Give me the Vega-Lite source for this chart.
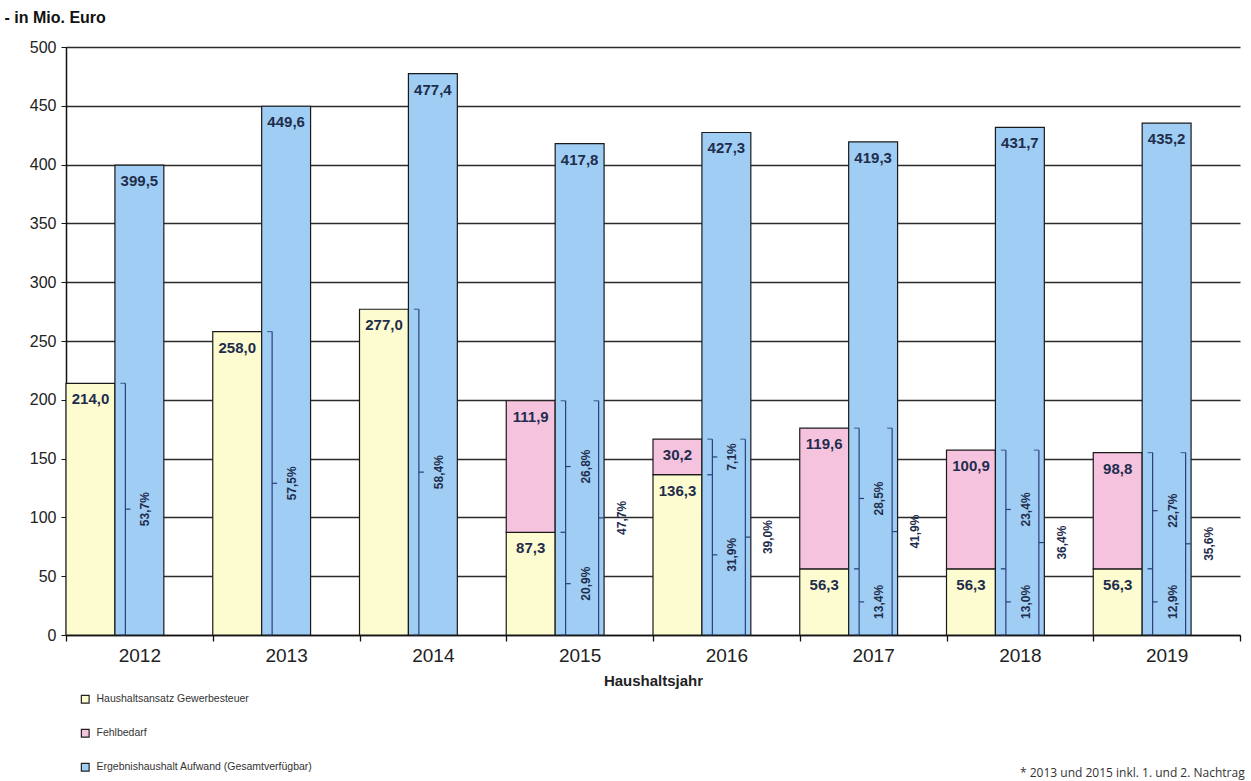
{
  "$schema": "https://vega.github.io/schema/vega-lite/v6.json",
  "width": 1174,
  "height": 588,
  "autosize": "none",
  "padding": {"left": 66, "top": 47, "right": 11, "bottom": 146},
  "config": {
    "locale": {"number": {"decimal": ",", "thousands": ".", "grouping": [3], "currency": ["", " €"]}},
    "font": "Liberation Sans",
    "view": {"stroke": null}
  },
  "title": {"text": "* 2013 und 2015 inkl. 1. und 2. Nachtrag", "orient": "bottom", "anchor": "end", "fontSize": 12, "fontWeight": "normal", "font": "Open Sans", "color": "#333", "offset": -6, "dx": 4},
  "datasets": {
    "werte": [
      {"jahr": "2012", "balken": "Bedarf", "serie": "Haushaltsansatz Gewerbesteuer", "wert": 214.0},
      {"jahr": "2012", "balken": "Aufwand", "serie": "Ergebnishaushalt Aufwand (Gesamtverfügbar)", "wert": 399.5},
      {"jahr": "2013", "balken": "Bedarf", "serie": "Haushaltsansatz Gewerbesteuer", "wert": 258.0},
      {"jahr": "2013", "balken": "Aufwand", "serie": "Ergebnishaushalt Aufwand (Gesamtverfügbar)", "wert": 449.6},
      {"jahr": "2014", "balken": "Bedarf", "serie": "Haushaltsansatz Gewerbesteuer", "wert": 277.0},
      {"jahr": "2014", "balken": "Aufwand", "serie": "Ergebnishaushalt Aufwand (Gesamtverfügbar)", "wert": 477.4},
      {"jahr": "2015", "balken": "Bedarf", "serie": "Haushaltsansatz Gewerbesteuer", "wert": 87.3},
      {"jahr": "2015", "balken": "Bedarf", "serie": "Fehlbedarf", "wert": 111.9},
      {"jahr": "2015", "balken": "Aufwand", "serie": "Ergebnishaushalt Aufwand (Gesamtverfügbar)", "wert": 417.8},
      {"jahr": "2016", "balken": "Bedarf", "serie": "Haushaltsansatz Gewerbesteuer", "wert": 136.3},
      {"jahr": "2016", "balken": "Bedarf", "serie": "Fehlbedarf", "wert": 30.2},
      {"jahr": "2016", "balken": "Aufwand", "serie": "Ergebnishaushalt Aufwand (Gesamtverfügbar)", "wert": 427.3},
      {"jahr": "2017", "balken": "Bedarf", "serie": "Haushaltsansatz Gewerbesteuer", "wert": 56.3},
      {"jahr": "2017", "balken": "Bedarf", "serie": "Fehlbedarf", "wert": 119.6},
      {"jahr": "2017", "balken": "Aufwand", "serie": "Ergebnishaushalt Aufwand (Gesamtverfügbar)", "wert": 419.3},
      {"jahr": "2018", "balken": "Bedarf", "serie": "Haushaltsansatz Gewerbesteuer", "wert": 56.3},
      {"jahr": "2018", "balken": "Bedarf", "serie": "Fehlbedarf", "wert": 100.9},
      {"jahr": "2018", "balken": "Aufwand", "serie": "Ergebnishaushalt Aufwand (Gesamtverfügbar)", "wert": 431.7},
      {"jahr": "2019", "balken": "Bedarf", "serie": "Haushaltsansatz Gewerbesteuer", "wert": 56.3},
      {"jahr": "2019", "balken": "Bedarf", "serie": "Fehlbedarf", "wert": 98.8},
      {"jahr": "2019", "balken": "Aufwand", "serie": "Ergebnishaushalt Aufwand (Gesamtverfügbar)", "wert": 435.2}
    ],
    "anteile": [
      {"jahr": "2012", "lage": "innen", "von": 0, "bis": 214.0, "anteil": 0.537},
      {"jahr": "2013", "lage": "innen", "von": 0, "bis": 258.0, "anteil": 0.575},
      {"jahr": "2014", "lage": "innen", "von": 0, "bis": 277.0, "anteil": 0.584},
      {"jahr": "2015", "lage": "innen", "von": 0, "bis": 87.3, "anteil": 0.209},
      {"jahr": "2015", "lage": "innen", "von": 87.3, "bis": 199.2, "anteil": 0.268},
      {"jahr": "2015", "lage": "aussen", "von": 0, "bis": 199.2, "anteil": 0.477},
      {"jahr": "2016", "lage": "innen", "von": 0, "bis": 136.3, "anteil": 0.319},
      {"jahr": "2016", "lage": "innen", "von": 136.3, "bis": 166.5, "anteil": 0.071},
      {"jahr": "2016", "lage": "aussen", "von": 0, "bis": 166.5, "anteil": 0.390},
      {"jahr": "2017", "lage": "innen", "von": 0, "bis": 56.3, "anteil": 0.134},
      {"jahr": "2017", "lage": "innen", "von": 56.3, "bis": 175.9, "anteil": 0.285},
      {"jahr": "2017", "lage": "aussen", "von": 0, "bis": 175.9, "anteil": 0.419},
      {"jahr": "2018", "lage": "innen", "von": 0, "bis": 56.3, "anteil": 0.130},
      {"jahr": "2018", "lage": "innen", "von": 56.3, "bis": 157.2, "anteil": 0.234},
      {"jahr": "2018", "lage": "aussen", "von": 0, "bis": 157.2, "anteil": 0.364},
      {"jahr": "2019", "lage": "innen", "von": 0, "bis": 56.3, "anteil": 0.129},
      {"jahr": "2019", "lage": "innen", "von": 56.3, "bis": 155.1, "anteil": 0.227},
      {"jahr": "2019", "lage": "aussen", "von": 0, "bis": 155.1, "anteil": 0.356}
    ]
  },
  "layer": [
    {
      "data": {"name": "werte"},
      "transform": [
        {"stack": "wert", "groupby": ["jahr", "balken"], "sort": [{"field": "serie", "order": "descending"}], "as": ["v0", "v1"]}
      ],
      "layer": [
        {
          "mark": {"type": "bar", "stroke": "#1a1a1a", "strokeWidth": 1.2},
          "encoding": {
            "x": {
              "field": "jahr", "type": "nominal",
              "scale": {"paddingInner": 0, "paddingOuter": 0},
              "axis": {
                "title": "Haushaltsjahr", "labelAngle": 0, "labelFontSize": 19, "labelColor": "#222",
                "labelPadding": 5, "tickBand": "extent", "tickSize": 6, "tickColor": "#111", "tickWidth": 1.3,
                "domainColor": "#111", "domainWidth": 1.5,
                "titleFontSize": 15, "titleFontWeight": "bold", "titlePadding": 8, "titleColor": "#222"
              }
            },
            "xOffset": {
              "field": "balken", "type": "nominal",
              "scale": {"domain": ["Bedarf", "Aufwand", "Lücke"], "paddingInner": 0, "paddingOuter": 0}
            },
            "y": {
              "field": "v0", "type": "quantitative",
              "scale": {"domain": [0, 500], "nice": false},
              "axis": {
                "values": [0, 50, 100, 150, 200, 250, 300, 350, 400, 450, 500],
                "grid": true, "gridColor": "#2b2b2b", "gridWidth": 1.3,
                "domainColor": "#111", "domainWidth": 1.5, "tickColor": "#111", "tickSize": 5,
                "labelFontSize": 16, "labelColor": "#222", "labelPadding": 5,
                "title": "- in Mio. Euro", "titleAngle": 0, "titleAlign": "left", "titleBaseline": "middle",
                "titleX": -62, "titleY": -30, "titleFontSize": 16, "titleFontWeight": "bold", "titleColor": "#111"
              }
            },
            "y2": {"field": "v1"},
            "color": {
              "field": "serie", "type": "nominal",
              "scale": {
                "domain": ["Haushaltsansatz Gewerbesteuer", "Fehlbedarf", "Ergebnishaushalt Aufwand (Gesamtverfügbar)"],
                "range": ["#FDFBD0", "#F6C3DF", "#9FCDF3"]
              },
              "legend": {
                "title": null, "orient": "none", "legendX": 14, "legendY": 647, "direction": "vertical",
                "symbolType": "square", "symbolSize": 60, "symbolStrokeColor": "#222", "symbolStrokeWidth": 1.2,
                "labelFontSize": 10.5, "labelColor": "#333", "rowPadding": 20, "labelOffset": 6, "labelLimit": 0
              }
            }
          }
        },
        {
          "mark": {"type": "text", "baseline": "top", "dy": 9, "fontSize": 15, "fontWeight": "bold", "color": "#1f2d4d"},
          "encoding": {
            "x": {"field": "jahr", "type": "nominal"},
            "xOffset": {"field": "balken", "type": "nominal"},
            "y": {"field": "v1", "type": "quantitative"},
            "text": {"field": "wert", "type": "quantitative", "format": ".1f"}
          }
        }
      ]
    },
    {
      "data": {"name": "anteile"},
      "transform": [{"filter": {"field": "lage", "equal": "innen"}}],
      "mark": {"type": "rule", "xOffset": -14, "color": "#2a3f7a", "strokeWidth": 1.2},
      "encoding": {
        "x": {"field": "jahr", "type": "nominal"},
        "y": {"field": "von", "type": "quantitative"},
        "y2": {"field": "bis"}
      }
    },
    {
      "data": {"name": "anteile"},
      "transform": [{"filter": {"field": "lage", "equal": "aussen"}}],
      "mark": {"type": "rule", "xOffset": 19, "color": "#2a3f7a", "strokeWidth": 1.2},
      "encoding": {
        "x": {"field": "jahr", "type": "nominal"},
        "y": {"field": "von", "type": "quantitative"},
        "y2": {"field": "bis"}
      }
    },
    {
      "data": {"name": "anteile"},
      "transform": [{"filter": {"field": "lage", "equal": "innen"}}, {"fold": ["von", "bis"], "as": ["grenze", "v"]}],
      "mark": {"type": "tick", "orient": "horizontal", "size": 5, "thickness": 1.2, "xOffset": -16.5, "color": "#2a3f7a"},
      "encoding": {
        "x": {"field": "jahr", "type": "nominal"},
        "y": {"field": "v", "type": "quantitative"}
      }
    },
    {
      "data": {"name": "anteile"},
      "transform": [{"filter": {"field": "lage", "equal": "aussen"}}, {"fold": ["von", "bis"], "as": ["grenze", "v"]}],
      "mark": {"type": "tick", "orient": "horizontal", "size": 5, "thickness": 1.2, "xOffset": 16.5, "color": "#2a3f7a"},
      "encoding": {
        "x": {"field": "jahr", "type": "nominal"},
        "y": {"field": "v", "type": "quantitative"}
      }
    },
    {
      "data": {"name": "anteile"},
      "transform": [{"filter": {"field": "lage", "equal": "innen"}}, {"fold": ["von", "bis"], "as": ["grenze", "v"]}],
      "mark": {"type": "tick", "orient": "horizontal", "size": 5, "thickness": 1.2, "xOffset": -11.5, "color": "#2a3f7a"},
      "encoding": {
        "x": {"field": "jahr", "type": "nominal"},
        "y": {"aggregate": "mean", "field": "v", "type": "quantitative"},
        "detail": {"field": "anteil", "type": "nominal"}
      }
    },
    {
      "data": {"name": "anteile"},
      "transform": [{"filter": {"field": "lage", "equal": "aussen"}}, {"fold": ["von", "bis"], "as": ["grenze", "v"]}],
      "mark": {"type": "tick", "orient": "horizontal", "size": 5, "thickness": 1.2, "xOffset": 21.5, "color": "#2a3f7a"},
      "encoding": {
        "x": {"field": "jahr", "type": "nominal"},
        "y": {"aggregate": "mean", "field": "v", "type": "quantitative"},
        "detail": {"field": "anteil", "type": "nominal"}
      }
    },
    {
      "data": {"name": "anteile"},
      "transform": [{"filter": {"field": "lage", "equal": "innen"}}, {"fold": ["von", "bis"], "as": ["grenze", "v"]}],
      "mark": {"type": "text", "angle": 270, "align": "center", "baseline": "middle", "xOffset": 6, "fontSize": 12, "fontWeight": "bold", "color": "#1f2d4d"},
      "encoding": {
        "x": {"field": "jahr", "type": "nominal"},
        "y": {"aggregate": "mean", "field": "v", "type": "quantitative"},
        "text": {"field": "anteil", "type": "quantitative", "format": ".1%"}
      }
    },
    {
      "data": {"name": "anteile"},
      "transform": [{"filter": {"field": "lage", "equal": "aussen"}}, {"fold": ["von", "bis"], "as": ["grenze", "v"]}],
      "mark": {"type": "text", "angle": 270, "align": "center", "baseline": "middle", "xOffset": 42, "fontSize": 12, "fontWeight": "bold", "color": "#1f2d4d"},
      "encoding": {
        "x": {"field": "jahr", "type": "nominal"},
        "y": {"aggregate": "mean", "field": "v", "type": "quantitative"},
        "text": {"field": "anteil", "type": "quantitative", "format": ".1%"}
      }
    }
  ]
}
